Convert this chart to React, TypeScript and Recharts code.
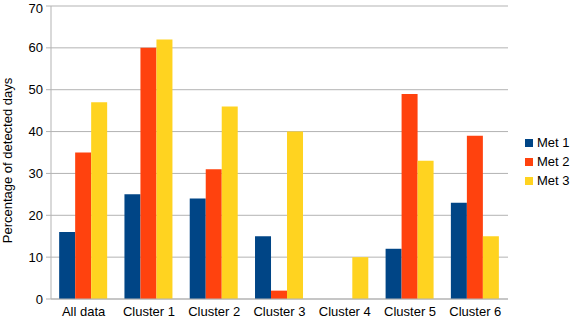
import React from 'react';
import { BarChart, Bar, XAxis, YAxis, CartesianGrid, ReferenceLine } from 'recharts';

const categories = ['All data', 'Cluster 1', 'Cluster 2', 'Cluster 3', 'Cluster 4', 'Cluster 5', 'Cluster 6'];
const met1 = [16, 25, 24, 15, 0, 12, 23];
const met2 = [35, 60, 31, 2, 0, 49, 39];
const met3 = [47, 62, 46, 40, 10, 33, 15];
const yTicks = [0, 10, 20, 30, 40, 50, 60, 70];

const series = [
  { key: 'met1', name: 'Met 1', color: '#004586' },
  { key: 'met2', name: 'Met 2', color: '#ff420e' },
  { key: 'met3', name: 'Met 3', color: '#ffd320' },
];

const data = categories.map((name, i) => ({ name, met1: met1[i], met2: met2[i], met3: met3[i] }));
const boundaryTicks = categories.map((_, i) => i).concat(categories.length);

const font = '"Liberation Sans", Arial, sans-serif';
const gridColor = '#b3b3b3';

const App: React.FC = () => {
  return (
    <div style={{ position: 'absolute', left: 0, top: 0, width: 571, height: 320, fontFamily: font }}>
      <BarChart
        width={571}
        height={320}
        data={data}
        margin={{ top: 6, right: 63, left: 0, bottom: 0 }}
        barCategoryGap="12.5%"
        barGap={0}
      >
        <CartesianGrid vertical={false} stroke={gridColor} />
        <XAxis
          xAxisId="frame"
          type="number"
          domain={[0, categories.length]}
          ticks={boundaryTicks}
          tick={false}
          tickSize={5}
          height={0}
          axisLine={false}
          tickLine={{ stroke: gridColor }}
        />
        <XAxis
          dataKey="name"
          height={21}
          tickLine={false}
          axisLine={{ stroke: gridColor }}
          tickSize={0}
          tickMargin={8}
          interval={0}
          tick={{ fill: '#000', fontSize: 13, fontFamily: font }}
        />
        <YAxis
          width={51}
          domain={[0, 70]}
          ticks={yTicks}
          tickSize={5}
          tickMargin={3}
          axisLine={{ stroke: gridColor }}
          tickLine={{ stroke: gridColor }}
          tick={{ fill: '#000', fontSize: 13, fontFamily: font }}
          label={{
            value: 'Percentage of detected days',
            angle: -90,
            position: 'center',
            dx: -18,
            dy: 8,
            style: { fill: '#000', fontSize: 13, fontFamily: font, textAnchor: 'middle' },
          }}
        />
        <ReferenceLine xAxisId="frame" x={categories.length} stroke={gridColor} />
        {series.map((s) => (
          <Bar key={s.key} dataKey={s.key} name={s.name} fill={s.color} isAnimationActive={false} />
        ))}
      </BarChart>
      <div style={{ position: 'absolute', left: 525, top: 133 }}>
        {series.map((s) => (
          <div key={s.key} style={{ display: 'flex', alignItems: 'center', height: 19, fontSize: 13, color: '#000' }}>
            <span style={{ display: 'inline-block', width: 8, height: 8, background: s.color, marginRight: 4 }} />
            {s.name}
          </div>
        ))}
      </div>
    </div>
  );
};

export default App;
